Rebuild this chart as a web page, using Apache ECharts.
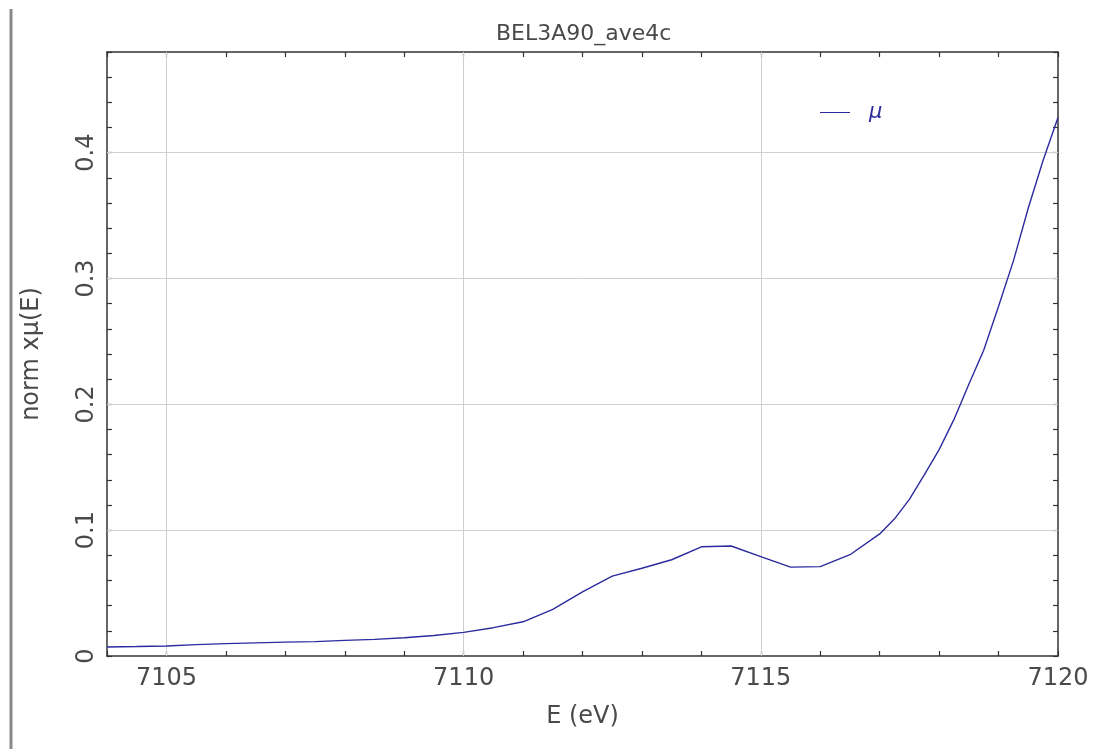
<!DOCTYPE html>
<html>
<head>
<meta charset="utf-8">
<script src="https://cdn.jsdelivr.net/npm/echarts@6/dist/echarts.min.js"></script>
<style>
  html, body { margin: 0; padding: 0; background: #fff; }
  #chart { width: 1101px; height: 749px; }
</style>
</head>
<body>
<div id="chart"></div>
<script>
// Normalized absorption near the Fe K edge
const energy = [
  7104.0, 7104.5, 7105.0, 7105.5, 7106.0, 7106.5, 7107.0, 7107.5, 7108.0, 7108.5,
  7109.0, 7109.5, 7110.0, 7110.5, 7111.0, 7111.5, 7112.0, 7112.5, 7113.0, 7113.5,
  7114.0, 7114.5, 7115.0, 7115.5, 7116.0, 7116.5, 7117.0, 7117.25, 7117.5, 7117.75,
  7118.0, 7118.25, 7118.5, 7118.75, 7119.0, 7119.25, 7119.5, 7119.75, 7120.0
];
const muNorm = [
  0.0072, 0.0075, 0.0080, 0.0090, 0.0098, 0.0104, 0.0110, 0.0114, 0.0124, 0.0132,
  0.0145, 0.0163, 0.0188, 0.0225, 0.0272, 0.0370, 0.0510, 0.0635, 0.0697, 0.0765,
  0.0868, 0.0874, 0.0790, 0.0706, 0.0710, 0.0805, 0.0970, 0.1090, 0.1245, 0.1440,
  0.1640, 0.1880, 0.2160, 0.2430, 0.2780, 0.3140, 0.3560, 0.3940, 0.4280
];
const xMajorTicks = [7105, 7110, 7115, 7120];
const yMajorTicks = [0, 0.1, 0.2, 0.3, 0.4];
const xGridValues = [7105, 7110, 7115];
const yGridValues = [0.1, 0.2, 0.3, 0.4];

const FONT = 'DejaVu Sans';
const TEXT = '#4a4a4a';
const AXIS = '#333';

const isMajorX = v => xMajorTicks.some(t => Math.abs(t - v) < 1e-6);
const isMajorY = v => yMajorTicks.some(t => Math.abs(t - v) < 1e-6);

const baseX = {
  type: 'value', min: 7104, max: 7120, interval: 1,
  axisLine: { show: true, onZero: false, lineStyle: { color: AXIS, width: 1.5 } },
  axisTick: { show: true, inside: true, length: 5, lineStyle: { color: AXIS, width: 1.2 } },
  splitLine: { show: false }
};
const baseY = {
  type: 'value', min: 0, max: 0.48, interval: 0.02,
  axisLine: { show: true, onZero: false, lineStyle: { color: AXIS, width: 1.5 } },
  axisTick: { show: true, inside: true, length: 5, lineStyle: { color: AXIS, width: 1.2 } },
  splitLine: { show: false }
};

const chart = echarts.init(document.getElementById('chart'), null, { renderer: 'canvas' });
chart.setOption({
  backgroundColor: '#ffffff',
  animation: false,
  title: {
    text: 'BEL3A90_ave4c',
    left: 491, top: 18,
    textStyle: { fontFamily: FONT, fontSize: 22, fontWeight: 'normal', color: TEXT }
  },
  legend: {
    data: ['μ'],
    left: 815, top: 97,
    itemWidth: 30, itemHeight: 12,
    icon: 'path://M0,5 L30,5 L30,6 L0,6 Z',
    textStyle: { fontFamily: FONT, fontSize: 21, fontStyle: 'italic', color: '#2b2b9f', padding: [8, 0, 0, 14] }
  },
  grid: { left: 107, right: 43, top: 52, bottom: 93, containLabel: false },
  xAxis: [
    Object.assign({}, baseX, {
      position: 'bottom',
      name: 'E (eV)', nameLocation: 'middle', nameGap: 49,
      nameTextStyle: { fontFamily: FONT, fontSize: 24, color: TEXT },
      axisLabel: {
        show: true, margin: 11, fontFamily: FONT, fontSize: 24, color: TEXT,
        formatter: v => isMajorX(v) ? String(Math.round(v)) : ''
      }
    }),
    Object.assign({}, baseX, { position: 'top', axisLabel: { show: false } })
  ],
  yAxis: [
    Object.assign({}, baseY, {
      position: 'left',
      name: 'norm xμ(E)', nameLocation: 'middle', nameGap: 63, nameRotate: 90,
      nameTextStyle: { fontFamily: FONT, fontSize: 24, color: TEXT },
      axisLabel: {
        show: true, margin: 8, rotate: 90, fontFamily: FONT, fontSize: 24, color: TEXT,
        formatter: v => isMajorY(v) ? String(Math.round(v * 10) / 10) : ''
      }
    }),
    Object.assign({}, baseY, { position: 'right', axisLabel: { show: false } })
  ],
  graphic: [{
    type: 'line',
    shape: { x1: 11, y1: 9, x2: 11, y2: 749 },
    style: { stroke: '#8a8a8a', lineWidth: 3 },
    silent: true
  }],
  series: [{
    name: 'μ',
    type: 'line',
    xAxisIndex: 0, yAxisIndex: 0,
    data: energy.map((e, i) => [e, muNorm[i]]),
    showSymbol: false,
    smooth: false,
    lineStyle: { color: '#2b2b9f', width: 1.4 },
    itemStyle: { color: '#2b2b9f' },
    z: 3,
    markLine: {
      silent: true,
      symbol: ['none', 'none'],
      label: { show: false },
      lineStyle: { color: '#cfcfcf', width: 1, type: 'solid' },
      z: 1,
      data: xGridValues.map(v => ({ xAxis: v })).concat(yGridValues.map(v => ({ yAxis: v })))
    }
  }]
});
</script>
</body>
</html>
